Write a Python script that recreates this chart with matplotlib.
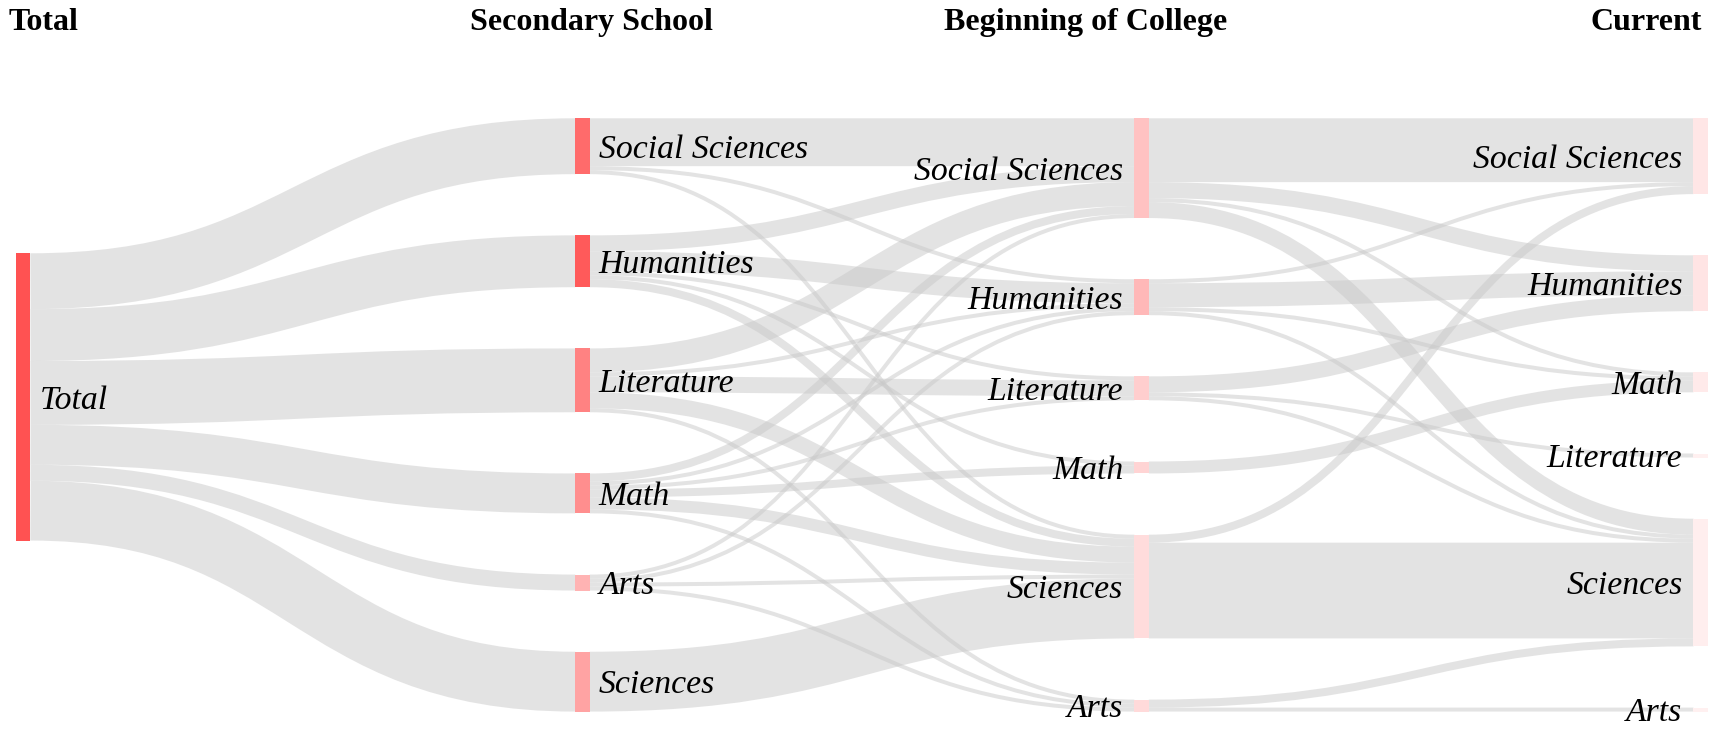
"""Sankey of study fields: total -> secondary school -> beginning of college -> current."""
import matplotlib
matplotlib.use('Agg')
import matplotlib.pyplot as plt
from matplotlib.path import Path
from matplotlib.patches import PathPatch, Rectangle

W, H, DPI = 1724, 729, 100

# =============================================================================
# Data (students per field)
# =============================================================================

STAGES = ['Total', 'Secondary School', 'Beginning of College', 'Current']
TOTAL = ['Total']
SECONDARY = ['Social Sciences', 'Humanities', 'Literature', 'Math', 'Arts', 'Sciences']
COLLEGE = ['Social Sciences', 'Humanities', 'Literature', 'Math', 'Sciences', 'Arts']
CURRENT = ['Social Sciences', 'Humanities', 'Math', 'Literature', 'Sciences', 'Arts']

TOTAL_TO_SECONDARY = [[14, 13, 16, 10, 4, 15]]

# rows: SECONDARY, cols: COLLEGE
SECONDARY_TO_COLLEGE = [
    [12, 1, 0, 0, 1, 0],
    [4, 5, 1, 1, 2, 0],
    [6, 1, 4, 0, 4, 1],
    [2, 1, 1, 2, 3, 1],
    [1, 1, 0, 0, 1, 1],
    [0, 0, 0, 0, 15, 0],
]

# rows: COLLEGE, cols: CURRENT
COLLEGE_TO_CURRENT = [
    [16, 4, 1, 0, 4, 0],
    [1, 6, 1, 0, 1, 0],
    [0, 4, 0, 1, 1, 0],
    [0, 0, 3, 0, 0, 0],
    [2, 0, 0, 0, 24, 0],
    [0, 0, 0, 0, 2, 1],
]

NODE_COLORS = [
    ['#ff5252'],
    ['#ff6b6b', '#ff5a5a', '#ff8282', '#ff8e8e', '#ffb3b3', '#ffa3a3'],
    ['#ffc2c2', '#ffb8b8', '#ffcece', '#ffd4d4', '#ffdcdc', '#ffdada'],
    ['#ffe6e6', '#ffe4e4', '#ffeaea', '#fff0f0', '#ffeeee', '#fff0f0'],
]

# =============================================================================
# Layout (d3-sankey style)
# =============================================================================

X_LEFT, X_RIGHT = 16, 1708
Y_TOP = 118.3
NODE_W = 14.5
KY = 3.99      # px per student
PAD = 61.2     # vertical gap between nodes
LINK_RGBA = (200 / 255, 200 / 255, 200 / 255, 0.5)
LABEL_PX = 33.8
HEADER_PX = 32.0

columns = [TOTAL, SECONDARY, COLLEGE, CURRENT]
matrices = [TOTAL_TO_SECONDARY, SECONDARY_TO_COLLEGE, COLLEGE_TO_CURRENT]

nodes = []
col_nodes = []
for c, names in enumerate(columns):
    ids = []
    for i, name in enumerate(names):
        nodes.append({'name': name, 'col': c, 'in': 0, 'out': 0,
                      'color': NODE_COLORS[c][i]})
        ids.append(len(nodes) - 1)
    col_nodes.append(ids)

links = []
for c, mat in enumerate(matrices):
    for i, row in enumerate(mat):
        for j, v in enumerate(row):
            if v > 0:
                s, t = col_nodes[c][i], col_nodes[c + 1][j]
                links.append({'s': s, 't': t, 'v': v})
                nodes[s]['out'] += v
                nodes[t]['in'] += v

for n in nodes:
    n['value'] = max(n['in'], n['out'])

step = (X_RIGHT - X_LEFT - NODE_W) / (len(columns) - 1)
for n in nodes:
    n['x0'] = X_LEFT + n['col'] * step
    n['x1'] = n['x0'] + NODE_W

# stack multi-node columns from the top
for ids in col_nodes:
    if len(ids) > 1:
        y = Y_TOP
        for nid in ids:
            nodes[nid]['y0'] = y
            y += nodes[nid]['value'] * KY + PAD

# single-node column: place so its links run as level as possible
for ids in col_nodes:
    if len(ids) == 1:
        nid = ids[0]
        out = sorted([l for l in links if l['s'] == nid], key=lambda l: nodes[l['t']]['y0'])
        acc, num, den = 0.0, 0.0, 0.0
        for l in out:
            num += l['v'] * (nodes[l['t']]['y0'] - acc)
            den += l['v']
            acc += l['v'] * KY
        # damped like the d3 relaxation pass, which stops short of the target
        nodes[nid]['y0'] = num / den - 0.1 * PAD

for n in nodes:
    n['y1'] = n['y0'] + n['value'] * KY

# link offsets within source / target nodes
for nid, n in enumerate(nodes):
    out = sorted([l for l in links if l['s'] == nid], key=lambda l: nodes[l['t']]['y0'])
    y = n['y0']
    for l in out:
        l['ys'] = y + l['v'] * KY / 2
        y += l['v'] * KY
    inc = sorted([l for l in links if l['t'] == nid], key=lambda l: nodes[l['s']]['y0'])
    y = n['y0']
    for l in inc:
        l['yt'] = y + l['v'] * KY / 2
        y += l['v'] * KY

# =============================================================================
# Draw
# =============================================================================

fig = plt.figure(figsize=(W / DPI, H / DPI), dpi=DPI)
ax = fig.add_axes([0, 0, 1, 1])
ax.set_xlim(0, W)
ax.set_ylim(H, 0)
ax.axis('off')

for l in links:
    xa = nodes[l['s']]['x1']
    xb = nodes[l['t']]['x0']
    xm = (xa + xb) / 2
    path = Path([(xa, l['ys']), (xm, l['ys']), (xm, l['yt']), (xb, l['yt'])],
                [Path.MOVETO, Path.CURVE4, Path.CURVE4, Path.CURVE4])
    ax.add_patch(PathPatch(path, fill=False, edgecolor=LINK_RGBA,
                           lw=l['v'] * KY * 72 / DPI, capstyle='butt', zorder=1))

for n in nodes:
    ax.add_patch(Rectangle((n['x0'], n['y0']), NODE_W, n['y1'] - n['y0'],
                           facecolor=n['color'], edgecolor='none', zorder=2))
    yb = (n['y0'] + n['y1']) / 2 + 0.35 * LABEL_PX
    if n['col'] < 2:
        x, ha = n['x1'] + 9, 'left'
    else:
        x, ha = n['x0'] - 11, 'right'
    ax.text(x, yb, n['name'], ha=ha, va='baseline', family='Liberation Serif',
            style='italic', fontsize=LABEL_PX * 72 / DPI, zorder=3)

HEADER_X = [9, 591, 1086, 1702]
HEADER_HA = ['left', 'center', 'center', 'right']
for name, x, ha in zip(STAGES, HEADER_X, HEADER_HA):
    ax.text(x, 30, name, ha=ha, va='baseline', family='Liberation Serif',
            weight='bold', fontsize=HEADER_PX * 72 / DPI)

fig.savefig('out.png', dpi=DPI)
